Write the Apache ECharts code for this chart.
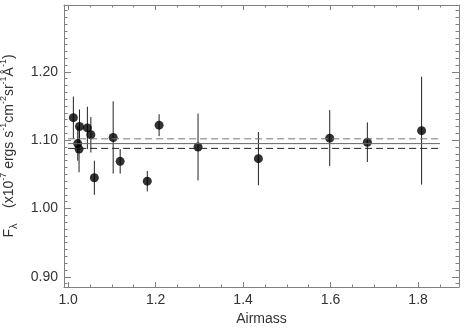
<!DOCTYPE html>
<html>
<head>
<meta charset="utf-8">
<script src="https://cdn.jsdelivr.net/npm/echarts@6/dist/echarts.min.js"></script>
<style>
  html, body { margin: 0; padding: 0; background: #fff; }
  #chart { width: 467px; height: 328px; }
</style>
</head>
<body>
<div id="chart"></div>
<script>
// 观测数据: 气团 (airmass) 与流量 F_lambda 及其误差
const airmass = [1.012, 1.026, 1.022, 1.025, 1.044, 1.052, 1.060, 1.103, 1.119, 1.181, 1.208, 1.297, 1.435, 1.598, 1.684, 1.808]
const flux = [1.133, 1.120, 1.095, 1.087, 1.118, 1.108, 1.045, 1.104, 1.069, 1.040, 1.122, 1.090, 1.073, 1.103, 1.097, 1.114]
const fluxErr = [0.031, 0.025, 0.025, 0.034, 0.031, 0.026, 0.025, 0.053, 0.018, 0.015, 0.016, 0.049, 0.039, 0.041, 0.029, 0.079]

// 平均值及其误差带
const meanFlux = 1.095
const meanErr = 0.007
const meanRange = [1.0, 1.85]

// 坐标轴刻度
const xMajor = [1.0, 1.2, 1.4, 1.6, 1.8]
const xMinor = [1.05, 1.1, 1.15, 1.25, 1.3, 1.35, 1.45, 1.5, 1.55, 1.65, 1.7, 1.75, 1.85]
const yMajor = [0.9, 1.0, 1.1, 1.2]
const yMinor = []
for (let i = 89; i <= 129; i++) {
  if (i % 10 !== 0) yMinor.push(i / 100)
}

const xMin = 0.9906, xMax = 1.8935
const yMin = 0.885, yMax = 1.298

const frameColor = '#808080'
const textColor = '#333'
const font = 'Liberation Sans'

// 两个完全重合的 grid: 一个画主刻度和数据, 一个画次刻度
const gridBox = { left: 64, right: 8, top: 5, bottom: 41, containLabel: false, outerBoundsMode: 'none' }

function xAxisOf(gridIndex, position, ticks, len, withLabel) {
  return {
    type: 'value', gridIndex, position, min: xMin, max: xMax,
    axisLine: { show: gridIndex === 0, lineStyle: { color: frameColor, width: 1 } },
    axisTick: { show: true, inside: true, length: len, customValues: ticks, lineStyle: { color: frameColor } },
    axisLabel: withLabel ? {
      show: true, customValues: xMajor, margin: 6, color: textColor, fontFamily: font, fontSize: 14,
      formatter: v => v.toFixed(1)
    } : { show: false },
    splitLine: { show: false },
    name: withLabel ? 'Airmass' : '',
    nameLocation: 'middle', nameGap: 24,
    nameTextStyle: { color: textColor, fontFamily: font, fontSize: 14 }
  }
}

function yAxisOf(gridIndex, position, ticks, len, withLabel) {
  return {
    type: 'value', gridIndex, position, min: yMin, max: yMax,
    axisLine: { show: gridIndex === 0, lineStyle: { color: frameColor, width: 1 } },
    axisTick: { show: true, inside: true, length: len, customValues: ticks, lineStyle: { color: frameColor } },
    axisLabel: withLabel ? {
      show: true, customValues: yMajor, margin: 6, color: textColor, fontFamily: font, fontSize: 14,
      formatter: v => v.toFixed(2)
    } : { show: false },
    splitLine: { show: false },
    name: withLabel
      ? '{t|F}{sub|λ}{t|    (x10}{sup|-7}{t| ergs s}{sup|-1}{t|cm}{sup|-2}{t|sr}{sup|-1}{t|Å}{sup|-1}{t|)}'
      : '',
    nameLocation: 'middle', nameRotate: 90, nameGap: 45,
    nameTextStyle: {
      color: textColor, fontFamily: font, fontSize: 14,
      rich: {
        t: { fontFamily: font, fontSize: 14, color: textColor, lineHeight: 20, verticalAlign: 'middle' },
        sup: { fontFamily: font, fontSize: 9, color: textColor, lineHeight: 12, verticalAlign: 'top' },
        sub: { fontFamily: font, fontSize: 11, color: textColor, lineHeight: 11, verticalAlign: 'bottom' }
      }
    }
  }
}

const points = airmass.map((x, i) => [x, flux[i], fluxErr[i]])

const myChart = echarts.init(document.getElementById('chart'), null, { renderer: 'canvas' })
const option = {
  animation: false,
  backgroundColor: '#fff',
  grid: [
    Object.assign({}, gridBox),
    Object.assign({}, gridBox)
  ],
  xAxis: [
    xAxisOf(0, 'bottom', xMajor, 5, true),
    xAxisOf(0, 'top', xMajor, 5, false),
    xAxisOf(1, 'bottom', xMinor, 2.5, false),
    xAxisOf(1, 'top', xMinor, 2.5, false)
  ],
  yAxis: [
    yAxisOf(0, 'left', yMajor, 7, true),
    yAxisOf(0, 'right', yMajor, 7, false),
    yAxisOf(1, 'left', yMinor, 3.5, false),
    yAxisOf(1, 'right', yMinor, 3.5, false)
  ],
  series: [
    // 平均值 (实线) 与 ±误差 (虚线)
    {
      type: 'line', xAxisIndex: 0, yAxisIndex: 0, symbol: 'none', silent: true,
      data: meanRange.map(x => [x, meanFlux]),
      lineStyle: { color: '#666', width: 1 }
    },
    {
      type: 'line', xAxisIndex: 0, yAxisIndex: 0, symbol: 'none', silent: true,
      data: meanRange.map(x => [x, meanFlux + meanErr]),
      lineStyle: { color: '#777', width: 1, type: [7, 4] }
    },
    {
      type: 'line', xAxisIndex: 0, yAxisIndex: 0, symbol: 'none', silent: true,
      data: meanRange.map(x => [x, meanFlux - meanErr]),
      lineStyle: { color: '#222', width: 1, type: [7, 4] }
    },
    // 误差棒
    {
      type: 'custom', xAxisIndex: 0, yAxisIndex: 0, silent: true,
      data: points,
      encode: { x: 0, y: 1 },
      renderItem(params, api) {
        const x = api.value(0), y = api.value(1), e = api.value(2)
        const p0 = api.coord([x, y - e])
        const p1 = api.coord([x, y + e])
        return {
          type: 'line',
          shape: { x1: p0[0], y1: p0[1], x2: p1[0], y2: p1[1] },
          style: { stroke: '#222', lineWidth: 1 }
        }
      }
    },
    // 数据点
    {
      type: 'scatter', xAxisIndex: 0, yAxisIndex: 0,
      data: points.map(p => [p[0], p[1]]),
      symbol: 'circle', symbolSize: 9,
      itemStyle: { color: '#000' }
    }
  ]
}

option && myChart.setOption(option)
window.addEventListener('resize', () => {
  myChart.resize()
})
</script>
</body>
</html>
